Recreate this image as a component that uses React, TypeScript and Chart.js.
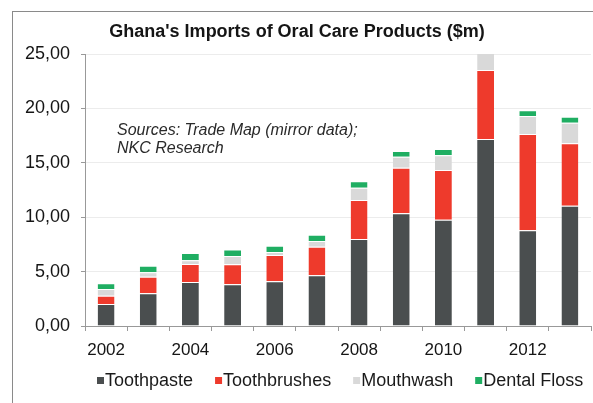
import React, { useEffect, useRef } from "react";
import { Chart, registerables } from "chart.js";

Chart.register(...registerables);

const years = ["2002", "2003", "2004", "2005", "2006", "2007", "2008", "2009", "2010", "2011", "2012", "2013"];
const toothpaste = [2.02, 3.0, 4.04, 3.83, 4.11, 4.66, 8.0, 10.36, 9.77, 17.19, 8.79, 11.06];
const toothbrushes = [0.77, 1.53, 1.66, 1.84, 2.42, 2.63, 3.58, 4.19, 4.57, 6.34, 8.86, 5.73];
const mouthwash = [0.6, 0.4, 0.35, 0.76, 0.27, 0.52, 1.13, 1.01, 1.35, 1.6, 1.65, 1.9];
const dentalFloss = [0.55, 0.6, 0.65, 0.59, 0.58, 0.58, 0.59, 0.52, 0.58, 0.55, 0.52, 0.55];
const yTicks = [0, 5, 10, 15, 20, 25];

const seriesNames = ["Toothpaste", "Toothbrushes", "Mouthwash", "Dental Floss"];
const seriesColors = ["#4a4e4f", "#ee3a2c", "#d9d9d9", "#1fae62"];
const titleText = "Ghana's Imports of Oral Care Products ($m)";
const noteLines = ["Sources: Trade Map (mirror data);", "NKC Research"];

const FONT = "'Liberation Sans', Arial, sans-serif";

export default function App() {
  const ref = useRef<HTMLCanvasElement | null>(null);

  useEffect(() => {
    if (!ref.current) return;
    const series = [toothpaste, toothbrushes, mouthwash, dentalFloss];

    const overlay = {
      id: "overlay",
      afterDraw(chart: any) {
        const ctx = chart.ctx as CanvasRenderingContext2D;
        const area = chart.chartArea;
        const ys = chart.scales.y;
        ctx.save();
        // title
        ctx.fillStyle = "#151515";
        ctx.font = `bold 18px ${FONT}`;
        ctx.textAlign = "center";
        ctx.textBaseline = "middle";
        ctx.fillText(titleText, 297, 32);
        // note
        ctx.font = `italic 16px ${FONT}`;
        ctx.fillStyle = "#2a2a2a";
        ctx.textAlign = "left";
        ctx.textBaseline = "middle";
        noteLines.forEach((line, i) => {
          ctx.fillText(line, area.left + 32, ys.getPixelForValue(18) + i * 18);
        });
        // legend
        ctx.font = `18px ${FONT}`;
        ctx.textBaseline = "middle";
        let x = 97;
        const ly = 381;
        chart.data.datasets.forEach((ds: any) => {
          ctx.fillStyle = ds.backgroundColor;
          ctx.fillRect(x, ly - 4, 7, 7);
          ctx.fillStyle = "#1a1a1a";
          ctx.fillText(ds.label, x + 8, ly);
          x += 8 + ctx.measureText(ds.label).width + 22;
        });
        ctx.restore();
      },
    };

    const chart = new Chart(ref.current, {
      type: "bar",
      data: {
        labels: years,
        datasets: series.map((d, i) => ({
          label: seriesNames[i],
          data: d,
          backgroundColor: seriesColors[i],
          borderColor: "#ffffff",
          borderWidth: { top: 1, bottom: 0, left: 0, right: 0 },
          borderSkipped: false,
          barPercentage: 0.4,
          categoryPercentage: 1,
        })),
      },
      options: {
        animation: false,
        responsive: false,
        devicePixelRatio: 1,
        layout: { padding: { top: 54, right: 2, left: 0, bottom: 0 } },
        plugins: {
          legend: { display: false },
          title: { display: false },
          tooltip: { enabled: false },
        },
        scales: {
          x: {
            stacked: true,
            afterFit: (s: any) => {
              s.height = 77;
            },
            grid: {
              offset: true,
              drawOnChartArea: false,
              drawTicks: true,
              tickLength: 5,
              color: "#999",
            },
            border: { display: true, color: "#999" },
            ticks: {
              autoSkip: false,
              maxRotation: 0,
              padding: 9,
              color: "#151515",
              font: { family: FONT, size: 17 },
              callback: (_v: any, i: number) => (i % 2 === 0 ? years[i] : ""),
            },
          },
          y: {
            stacked: true,
            min: 0,
            max: 25,
            afterFit: (s: any) => {
              s.width = 85;
            },
            afterBuildTicks: (s: any) => {
              s.ticks = yTicks.map((v) => ({ value: v }));
            },
            grid: {
              color: "#ececec",
              tickColor: "#999",
              tickLength: 4,
            },
            border: { display: true, color: "#999" },
            ticks: {
              padding: 11,
              color: "#151515",
              font: { family: FONT, size: 18 },
              callback: (v: any) => Number(v).toFixed(2).replace(".", ","),
            },
          },
        },
      },
      plugins: [overlay],
    });
    return () => chart.destroy();
  }, []);

  return (
    <div style={{ position: "fixed", left: 0, top: 0, width: 593, height: 403, background: "#fff", overflow: "hidden" }}>
      <div
        style={{
          position: "absolute",
          left: 12,
          top: 11,
          width: 600,
          height: 400,
          borderLeft: "1.5px solid #8a8a8a",
          borderTop: "1.5px solid #8a8a8a",
        }}
      />
      <canvas ref={ref} width={593} height={403} style={{ position: "absolute", left: 0, top: 0, width: 593, height: 403 }} />
    </div>
  );
}
